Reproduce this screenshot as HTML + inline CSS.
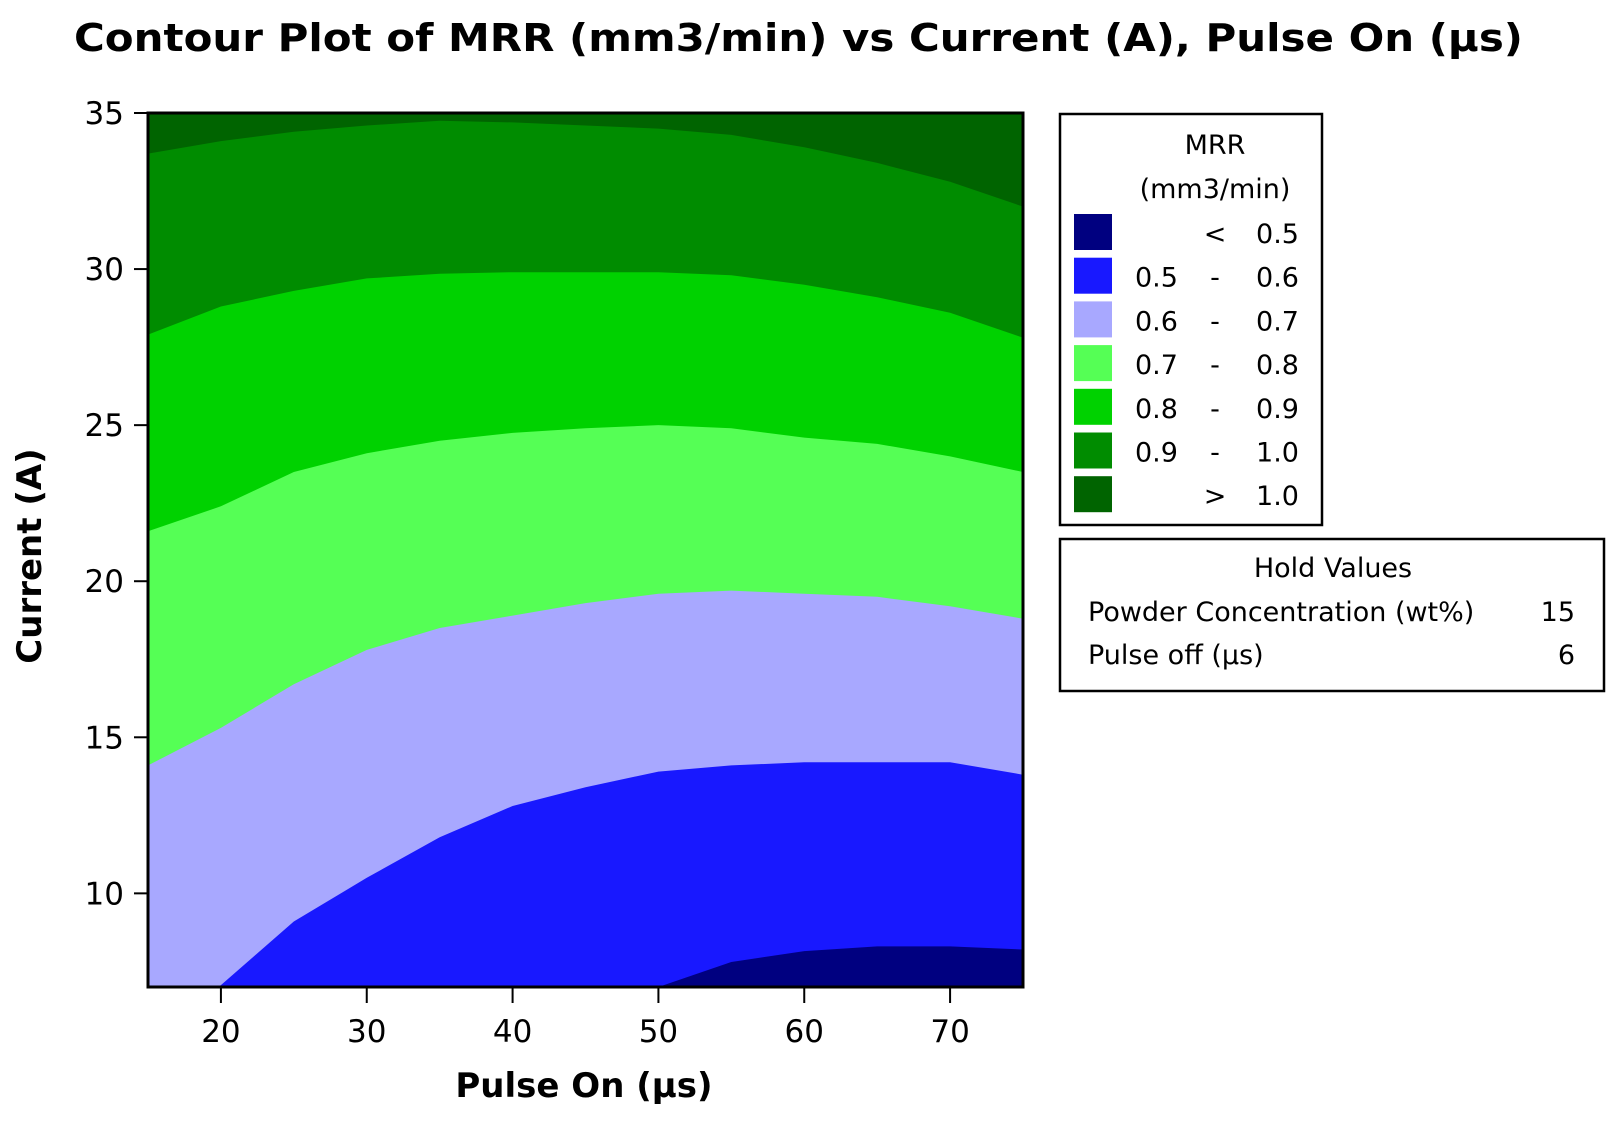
<!DOCTYPE html>
<html><head><meta charset="utf-8"><style>
html,body{margin:0;padding:0;background:#fff;}
svg{display:block;font-family:"DejaVu Sans","Liberation Sans",sans-serif;}
</style></head><body>
<svg id="chart" width="1614" height="1122" viewBox="0 0 1614 1122">
<text x="74" y="51" font-size="38" font-weight="bold" textLength="1449" lengthAdjust="spacingAndGlyphs">Contour Plot of MRR (mm3/min) vs Current (A), Pulse On (µs)</text>
<defs><clipPath id="pc"><rect x="148" y="113" width="875" height="874"/></clipPath></defs>
<g id="bands" clip-path="url(#pc)"></g>
<rect x="148" y="113" width="875" height="874" fill="none" stroke="#000" stroke-width="3"/>
<g id="axes"></g>
<text x="584" y="1097" font-size="34" font-weight="bold" text-anchor="middle">Pulse On (µs)</text>
<text transform="translate(41,556) rotate(-90)" font-size="34" font-weight="bold" text-anchor="middle">Current (A)</text>
<g>
<rect x="1060" y="114" width="262" height="411" fill="#fff" stroke="#000" stroke-width="2.5"/>
<text x="1215" y="154" font-size="27" text-anchor="middle">MRR</text>
<text x="1215" y="198" font-size="27" text-anchor="middle">(mm3/min)</text>
<g id="legrows"></g>
</g>
<g>
<rect x="1060" y="539" width="544" height="152" fill="#fff" stroke="#000" stroke-width="2.5"/>
<text x="1333" y="577" font-size="27" text-anchor="middle">Hold Values</text>
<text x="1088" y="621" font-size="27">Powder Concentration (wt%)</text>
<text x="1575" y="621" font-size="27" text-anchor="end">15</text>
<text x="1088" y="664" font-size="27">Pulse off (µs)</text>
<text x="1575" y="664" font-size="27" text-anchor="end">6</text>
</g>
</svg>
<script>
const xSamples=[15,20,25,30,35,40,45,50,55,60,65,70,75];
const b10=[33.7,34.1,34.4,34.6,34.75,34.7,34.6,34.5,34.3,33.9,33.4,32.8,32.0];
const b09=[27.9,28.8,29.3,29.7,29.85,29.9,29.9,29.9,29.8,29.5,29.1,28.6,27.8];
const b08=[21.6,22.4,23.5,24.1,24.5,24.75,24.9,25.0,24.9,24.6,24.4,24.0,23.5];
const b07=[14.1,15.3,16.7,17.8,18.5,18.9,19.3,19.6,19.7,19.6,19.5,19.2,18.8];
const b06=[5.5,7.06,9.1,10.5,11.8,12.8,13.4,13.9,14.1,14.2,14.2,14.2,13.8];
const b05=[4,5,5.5,6,6.2,6.4,6.7,7.0,7.8,8.15,8.3,8.3,8.2];
const xTicks=[20,30,40,50,60,70];
const yTicks=[10,15,20,25,30,35];
const legendLo=["","0.5","0.6","0.7","0.8","0.9",""];
const legendSep=["<","-","-","-","-","-",">"];
const legendHi=["0.5","0.6","0.7","0.8","0.9","1.0","1.0"];
const bandColors=["#000080","#1818ff","#a8a8ff","#55ff55","#00d200","#008c00","#006400"];

const NS="http://www.w3.org/2000/svg";
const X0=15,X1=75,Y0=7,Y1=35,PL=148,PR=1023,PT=113,PB=987;
const sx=v=>PL+(v-X0)/(X1-X0)*(PR-PL);
const sy=v=>PB-(v-Y0)/(Y1-Y0)*(PB-PT);
function mk(tag,attrs,parent){const e=document.createElementNS(NS,tag);for(const k in attrs)e.setAttribute(k,attrs[k]);parent.appendChild(e);return e;}

const bands=document.getElementById('bands');
const bg=mk('rect',{x:PL,y:PT,width:PR-PL,height:PB-PT,fill:bandColors[6]},bands);


const bounds=[b10,b09,b08,b07,b06,b05];
const bnames=['band-0-9-1-0','band-0-8-0-9','band-0-7-0-8','band-0-6-0-7','band-0-5-0-6','band-below-0-5'];
bounds.forEach((b,i)=>{
  let d='M'+sx(xSamples[0])+','+(PB+50);
  xSamples.forEach((x,j)=>{d+=' L'+sx(x).toFixed(1)+','+sy(b[j]).toFixed(1);});
  d+=' L'+sx(xSamples[xSamples.length-1])+','+(PB+50)+' Z';
  const p=mk('path',{d:d,fill:bandColors[5-i]},bands);
  
  
});

const axes=document.getElementById('axes');
xTicks.forEach(v=>{
  const l=mk('line',{x1:sx(v),x2:sx(v),y1:PB,y2:PB+16,stroke:'#000','stroke-width':2},axes);
  
  
  const t=mk('text',{x:sx(v),y:1042,'font-size':31,'text-anchor':'middle'},axes);
  t.textContent=v;
  
  
});
yTicks.forEach(v=>{
  const l=mk('line',{x1:PL-14,x2:PL,y1:sy(v),y2:sy(v),stroke:'#000','stroke-width':2},axes);
  
  
  const t=mk('text',{x:124,y:sy(v)+11,'font-size':31,'text-anchor':'end'},axes);
  t.textContent=v;
  
  
});

const lr=document.getElementById('legrows');
legendHi.forEach((h,i)=>{
  const top=214+i*43.7;
  const r=mk('rect',{x:1074,y:top,width:38,height:36,fill:bandColors[i]},lr);
  
  
  const base=top+29;
  const a=mk('text',{x:1135,y:base,'font-size':27},lr);
  a.textContent=legendLo[i];
  
  
  const s=mk('text',{x:1215,y:base,'font-size':27,'text-anchor':'middle'},lr);
  s.textContent=legendSep[i];
  
  
  const b=mk('text',{x:1299,y:base,'font-size':27,'text-anchor':'end'},lr);
  b.textContent=h;
  
  
});
</script>
</body></html>
